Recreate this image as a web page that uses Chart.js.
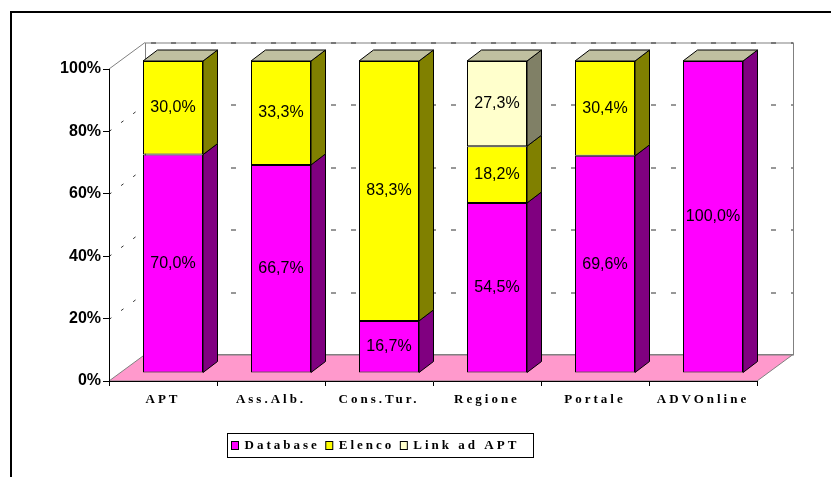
<!DOCTYPE html>
<html>
<head>
<meta charset="utf-8">
<script src="https://cdn.jsdelivr.net/npm/chart.js@4.4.1/dist/chart.umd.min.js"></script>
<style>
  html, body { margin: 0; padding: 0; background: #fff; }
  #wrap { width: 831px; height: 477px; }
</style>
</head>
<body>
<div id="wrap"><canvas id="chart" width="831" height="477"></canvas></div>
<script>
const categories = ['APT', 'Ass.Alb.', 'Cons.Tur.', 'Regione', 'Portale', 'ADVOnline'];
const database = [70.0, 66.7, 16.7, 54.5, 69.6, 100.0];
const elenco = [30.0, 33.3, 83.3, 18.2, 30.4, 0];
const linkApt = [0, 0, 0, 27.3, 0, 0];
const seriesNames = ['Database', 'Elenco', 'Link ad APT'];
const yTicks = [0, 20, 40, 60, 80, 100];

// 3d look
const WALL = { x: 36, y: -26.5 };
const SHIFT = { x: 10, y: -8 };
const BOX = { x: 14.5, y: -11 };
const frontColors = ['#FF00FF', '#FFFF00', '#FFFFCC'];
const sideColors = ['#800080', '#808000', '#808066'];
const topColor = '#C0C0A0';
const labelFont = 'bold 13px "Liberation Serif", "Times New Roman", serif';
const SPACING = '3px';

const fmt = v => v.toFixed(1).replace('.', ',') + '%';

const walls = {
  id: 'walls',
  beforeDraw(chart) {
    const { ctx, chartArea: a } = chart;
    const ys = chart.scales.y;
    // patch x labels for letter spacing
    const xs = chart.scales.x;
    if (!xs._spaced) {
      const orig = xs.drawLabels;
      xs.drawLabels = function (area) {
        ctx.save();
        ctx.letterSpacing = SPACING;
        orig.call(this, area);
        ctx.restore();
      };
      xs._spaced = true;
    }
    ctx.save();
    ctx.lineWidth = 1;
    // floor
    ctx.fillStyle = '#FF99CC';
    ctx.strokeStyle = '#808080';
    ctx.beginPath();
    ctx.moveTo(a.left, a.bottom);
    ctx.lineTo(a.left + WALL.x, a.bottom + WALL.y);
    ctx.lineTo(a.right + WALL.x, a.bottom + WALL.y);
    ctx.lineTo(a.right, a.bottom);
    ctx.closePath();
    ctx.fill();
    ctx.stroke();
    // back wall + side wall outline
    ctx.strokeRect(a.left + WALL.x + 0.5, a.top + WALL.y + 0.5, a.right - a.left, a.bottom - a.top);
    ctx.beginPath();
    ctx.moveTo(a.left, a.top);
    ctx.lineTo(a.left + WALL.x, a.top + WALL.y);
    ctx.stroke();
    // gridlines
    ctx.strokeStyle = '#303030';
    yTicks.forEach(v => {
      if (v === 0) return;
      const py = Math.round(ys.getPixelForValue(v)) + 0.5;
      ctx.setLineDash([5, 15]);
      ctx.beginPath();
      ctx.moveTo(a.left + WALL.x + 6, py + WALL.y);
      ctx.lineTo(a.right + WALL.x, py + WALL.y);
      ctx.stroke();
      if (v < 100) {
        ctx.setLineDash([3, 12]);
        ctx.beginPath();
        ctx.moveTo(a.left, py);
        ctx.lineTo(a.left + WALL.x, py + WALL.y);
        ctx.stroke();
      }
    });
    ctx.restore();
  },
  beforeDatasetsDraw(chart) {
    chart.ctx.save();
    chart.ctx.translate(SHIFT.x, SHIFT.y);
  },
  afterDatasetsDraw(chart) {
    const ctx = chart.ctx;
    ctx.lineWidth = 1;
    ctx.strokeStyle = '#000';
    const n = chart.data.labels.length;
    for (let i = 0; i < n; i++) {
      let topDs = -1;
      chart.data.datasets.forEach((ds, d) => { if (ds.data[i] > 0) topDs = d; });
      chart.data.datasets.forEach((ds, d) => {
        if (!(ds.data[i] > 0)) return;
        const el = chart.getDatasetMeta(d).data[i];
        const l = el.x - el.width / 2, r = el.x + el.width / 2;
        const t = el.y, b = el.base;
        ctx.fillStyle = sideColors[d];
        ctx.beginPath();
        ctx.moveTo(r, t);
        ctx.lineTo(r + BOX.x, t + BOX.y);
        ctx.lineTo(r + BOX.x, b + BOX.y);
        ctx.lineTo(r, b);
        ctx.closePath();
        ctx.fill();
        ctx.stroke();
        if (d === topDs) {
          ctx.fillStyle = topColor;
          ctx.beginPath();
          ctx.moveTo(l, t);
          ctx.lineTo(l + BOX.x, t + BOX.y);
          ctx.lineTo(r + BOX.x, t + BOX.y);
          ctx.lineTo(r, t);
          ctx.closePath();
          ctx.fill();
          ctx.stroke();
        }
        ctx.fillStyle = '#000';
        ctx.font = '16px "Liberation Sans", Arial, sans-serif';
        ctx.textAlign = 'center';
        ctx.textBaseline = 'middle';
        ctx.fillText(fmt(ds.data[i]), el.x, (t + b) / 2);
      });
    }
    ctx.restore();
  },
  afterDraw(chart) {
    const ctx = chart.ctx;
    ctx.save();
    // legend
    ctx.lineWidth = 1;
    ctx.strokeStyle = '#000';
    ctx.fillStyle = '#fff';
    ctx.fillRect(227.5, 433.5, 306, 24);
    ctx.strokeRect(227.5, 433.5, 306, 24);
    ctx.font = labelFont;
    ctx.letterSpacing = SPACING;
    ctx.textBaseline = 'middle';
    ctx.textAlign = 'left';
    let x = 231.5;
    chart.data.datasets.forEach((ds, d) => {
      ctx.fillStyle = ds.backgroundColor;
      ctx.fillRect(x, 441.5, 7, 8);
      ctx.strokeRect(x, 441.5, 7, 8);
      ctx.fillStyle = '#000';
      ctx.fillText(ds.label, x + 13, 446);
      x += 13 + ctx.measureText(ds.label).width + 6;
    });
    ctx.letterSpacing = '0px';
    // outer frame
    ctx.lineWidth = 2;
    ctx.strokeRect(11, 12, 840, 480);
    ctx.restore();
  }
};

const makeSet = (label, data, d) => ({
  label,
  data,
  backgroundColor: frontColors[d],
  borderColor: '#000',
  borderWidth: 1,
  borderSkipped: false,
  barPercentage: 60 / 108,
  categoryPercentage: 1,
  clip: false
});

new Chart(document.getElementById('chart'), {
  type: 'bar',
  data: {
    labels: categories,
    datasets: [
      makeSet(seriesNames[0], database, 0),
      makeSet(seriesNames[1], elenco, 1),
      makeSet(seriesNames[2], linkApt, 2)
    ]
  },
  options: {
    responsive: false,
    animation: false,
    events: [],
    layout: { padding: { left: 0, top: 69, right: 74, bottom: 0 } },
    plugins: { legend: { display: false }, tooltip: { enabled: false } },
    scales: {
      x: {
        stacked: true,
        afterFit(s) { s.height = 96; },
        border: { color: '#000', width: 1 },
        grid: { drawOnChartArea: false, tickLength: 5, color: '#000' },
        ticks: { color: '#000', padding: 6, font: { family: '"Liberation Serif", "Times New Roman", serif', size: 13, weight: 'bold' } }
      },
      y: {
        stacked: true,
        min: 0,
        max: 100,
        afterFit(s) { s.width = 109; },
        afterBuildTicks(s) { s.ticks = yTicks.map(v => ({ value: v })); },
        border: { color: '#000', width: 1 },
        grid: { drawOnChartArea: false, tickLength: 6, color: '#000' },
        ticks: {
          color: '#000',
          padding: 2,
          font: { family: '"Liberation Sans", Arial, sans-serif', size: 16, weight: 'bold' },
          callback: v => v + '%'
        }
      }
    }
  },
  plugins: [walls]
});
</script>
</body>
</html>
